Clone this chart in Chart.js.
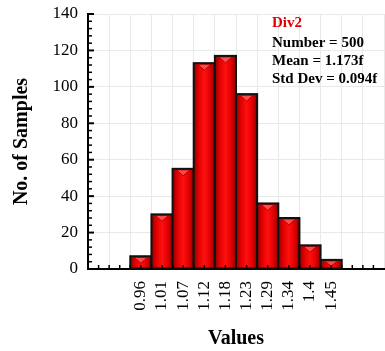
<!DOCTYPE html>
<html>
<head>
<meta charset="utf-8">
<script src="https://cdn.jsdelivr.net/npm/chart.js@4.4.1/dist/chart.umd.min.js"></script>
<style>
  html, body { margin: 0; padding: 0; background: #ffffff; }
  #wrap { width: 385px; height: 351px; }
</style>
</head>
<body>
<div id="wrap"><canvas id="c" width="385" height="351"></canvas></div>
<script>
// ---- data ----
const binLabels = ['0.96', '1.01', '1.07', '1.12', '1.18', '1.23', '1.29', '1.34', '1.4', '1.45'];
const counts    = [7, 30, 55, 113, 117, 96, 36, 28, 13, 5];
const yTicks    = [0, 20, 40, 60, 80, 100, 120, 140];
const statsTitle = 'Div2';
const statsLines = ['Number = 500', 'Mean = 1.173f', 'Std Dev = 0.094f'];

// empty bins on each side of the histogram
const padLeft = 2, padRight = 2;
const labels = [].concat(Array(padLeft).fill(''), binLabels, Array(padRight).fill(''));
const values = [].concat(Array(padLeft).fill(null), counts, Array(padRight).fill(null));

const SERIF = '"Liberation Serif", "Times New Roman", serif';

const barStyle = {
  id: 'barStyle',
  afterDatasetsDraw(chart) {
    const ctx = chart.ctx;
    const meta = chart.getDatasetMeta(0);
    meta.data.forEach((el, i) => {
      if (values[i] === null) return;
      const p = el.getProps(['x', 'y', 'base', 'width'], true);
      const l = p.x - p.width / 2, r = p.x + p.width / 2;
      const t = p.y, b = p.base;
      ctx.save();
      const g = ctx.createLinearGradient(l, 0, r, 0);
      g.addColorStop(0, '#8a0000');
      g.addColorStop(0.22, '#e00000');
      g.addColorStop(0.5, '#ff1010');
      g.addColorStop(0.78, '#e00000');
      g.addColorStop(1, '#8a0000');
      ctx.fillStyle = g;
      ctx.fillRect(l, t, r - l, b - t);
      // top bevel triangle
      const tw = (r - l) * 0.32, th = Math.min(6, (b - t) * 0.6);
      ctx.beginPath();
      ctx.moveTo(p.x - tw, t + 1);
      ctx.lineTo(p.x + tw, t + 1);
      ctx.lineTo(p.x, t + 1 + th);
      ctx.closePath();
      ctx.fillStyle = '#ff4a4a';
      ctx.fill();
      ctx.strokeStyle = '#b00000';
      ctx.lineWidth = 1;
      ctx.stroke();
      // outline
      ctx.strokeStyle = '#111111';
      ctx.lineWidth = 2;
      ctx.strokeRect(l, t, r - l, b - t);
      ctx.restore();
    });
  },
  afterDraw(chart) {
    const ctx = chart.ctx;
    const xs = chart.scales.x, ys = chart.scales.y;
    const area = chart.chartArea;
    ctx.save();
    ctx.strokeStyle = '#000000';
    // x ticks at every half bin, pointing up
    ctx.lineWidth = 1.5;
    const n = labels.length;
    const w = xs.getPixelForValue(1) - xs.getPixelForValue(0);
    for (let i = 0; i < n; i++) {
      const c = xs.getPixelForValue(i);
      [c - w / 2, c].forEach(px => {
        if (px <= area.left + 1) return;
        ctx.beginPath();
        ctx.moveTo(px, area.bottom);
        ctx.lineTo(px, area.bottom - 4);
        ctx.stroke();
      });
    }
    // y ticks pointing right
    for (let v = 0; v <= 140; v += 4) {
      const py = ys.getPixelForValue(v);
      const major = v % 20 === 0;
      ctx.lineWidth = major ? 2 : 1.5;
      ctx.beginPath();
      ctx.moveTo(area.left, py);
      ctx.lineTo(area.left + (major ? 6 : 4), py);
      ctx.stroke();
    }
    // stats text
    ctx.textAlign = 'left';
    ctx.textBaseline = 'alphabetic';
    ctx.font = 'bold 15px ' + SERIF;
    const tx = area.left + 184;
    ctx.fillStyle = '#e00000';
    ctx.fillText(statsTitle, tx, 27);
    ctx.fillStyle = '#000000';
    statsLines.forEach((s, k) => ctx.fillText(s, tx, 47 + k * 18));
    ctx.restore();
  }
};

new Chart(document.getElementById('c'), {
  type: 'bar',
  data: {
    labels: labels,
    datasets: [{
      data: values,
      backgroundColor: '#ee0000',
      borderColor: '#111111',
      borderWidth: 0,
      barPercentage: 1,
      categoryPercentage: 1
    }]
  },
  options: {
    responsive: false,
    animation: false,
    events: [],
    layout: { padding: { top: 14, right: 1, left: 0, bottom: 0 } },
    plugins: { legend: { display: false }, tooltip: { enabled: false } },
    scales: {
      x: {
        grid: { color: '#e9e9e9', lineWidth: 1, drawTicks: false, offset: true },
        border: { color: '#000000', width: 2 },
        ticks: {
          color: '#000000',
          font: { family: SERIF, size: 17 },
          minRotation: 90, maxRotation: 90,
          autoSkip: false,
          padding: 12
        },
        title: {
          display: true, text: 'Values', color: '#000000',
          font: { family: SERIF, size: 20, weight: 'bold' },
          padding: { top: 6, bottom: 0 }
        },
        afterFit(s) { s.height = 82; s.paddingLeft = 0; s.paddingRight = 0; }
      },
      y: {
        min: 0, max: 140,
        afterBuildTicks(s) { s.ticks = yTicks.map(v => ({ value: v })); },
        grid: { color: '#e9e9e9', lineWidth: 1, drawTicks: false },
        border: { color: '#000000', width: 2 },
        ticks: {
          color: '#000000',
          font: { family: SERIF, size: 17 },
          padding: 10
        },
        title: {
          display: true, text: 'No. of Samples', color: '#000000',
          font: { family: SERIF, size: 20, weight: 'bold' },
          padding: { top: 10, bottom: 0 }
        },
        afterFit(s) { s.width = 88; s.paddingTop = 0; s.paddingBottom = 0; }
      }
    }
  },
  plugins: [barStyle]
});
</script>
</body>
</html>
